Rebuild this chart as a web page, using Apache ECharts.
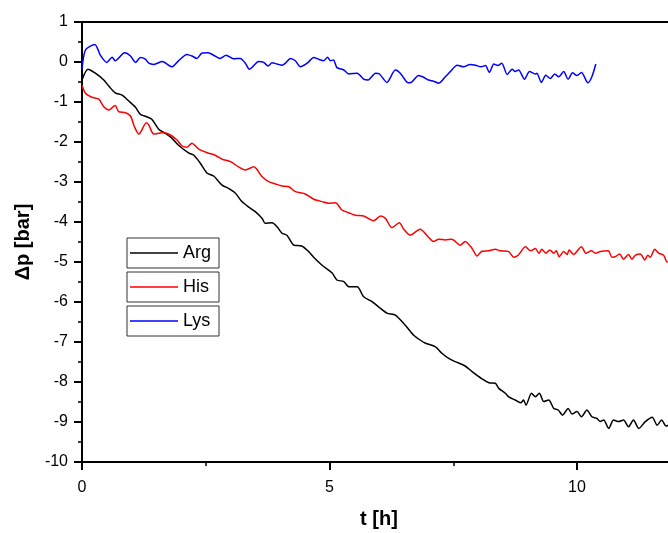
<!DOCTYPE html>
<html>
<head>
<meta charset="utf-8">
<script src="https://cdn.jsdelivr.net/npm/echarts@6/dist/echarts.min.js"></script>
<style>html,body{margin:0;padding:0;background:#fff}#c{width:668px;height:533px}</style>
</head>
<body>
<div id="c"></div>
<script>
const FONT = "'Liberation Sans', Arial, sans-serif";
const seriesNames = ['Arg', 'His', 'Lys'];
const seriesColors = ['#000000', '#ff0000', '#0000ff'];
const xTicks = [0, 5, 10];

const argT = [0,0.12,0.27,0.44,0.54,0.67,0.81,0.94,1.08,1.18,1.31,1.41,1.55,1.68,1.82,1.95,2.16,2.26,2.39,2.53,2.66,2.83,2.96,3.1,3.23,3.37,3.5,3.64,3.7,3.84,3.94,4.04,4.14,4.28,4.44,4.58,4.68,4.85,5.05,5.15,5.29,5.39,5.56,5.69,5.86,5.99,6.16,6.33,6.53,6.7,6.83,6.94,7.14,7.27,7.41,7.54,7.74,7.88,8.08,8.22,8.35,8.42,8.55,8.62,8.75,8.86,8.92,8.97,9.08,9.16,9.24,9.33,9.43,9.53,9.62,9.71,9.82,9.9,10.0,10.09,10.2,10.3,10.4,10.47,10.54,10.64,10.74,10.84,10.94,11.04,11.14,11.25,11.38,11.52,11.62,11.71,11.8,11.9];
const argP = [-0.45,-0.18,-0.28,-0.45,-0.6,-0.77,-0.83,-0.97,-1.13,-1.31,-1.37,-1.43,-1.68,-1.78,-1.91,-2.08,-2.28,-2.33,-2.53,-2.78,-2.85,-3.08,-3.16,-3.28,-3.49,-3.63,-3.74,-3.91,-4.03,-4.02,-4.12,-4.28,-4.33,-4.58,-4.6,-4.74,-4.88,-5.08,-5.27,-5.45,-5.49,-5.62,-5.62,-5.87,-5.99,-6.12,-6.28,-6.33,-6.58,-6.83,-6.95,-7.03,-7.12,-7.28,-7.41,-7.49,-7.6,-7.74,-7.92,-8.02,-8.03,-8.16,-8.28,-8.37,-8.45,-8.52,-8.45,-8.58,-8.28,-8.37,-8.28,-8.49,-8.45,-8.66,-8.7,-8.83,-8.66,-8.8,-8.74,-8.87,-8.7,-8.87,-8.91,-8.99,-8.95,-9.16,-8.95,-8.99,-8.95,-9.12,-8.95,-9.16,-8.99,-8.88,-9.08,-8.95,-9.1,-9.05];

const hisT = [0,0.07,0.2,0.34,0.44,0.54,0.67,0.74,0.88,0.98,1.06,1.15,1.3,1.35,1.45,1.62,1.75,1.92,2.02,2.12,2.22,2.36,2.53,2.69,2.83,3.0,3.17,3.3,3.47,3.64,3.77,3.91,4.04,4.18,4.31,4.51,4.68,4.85,4.98,5.12,5.25,5.39,5.52,5.69,5.89,6.03,6.13,6.26,6.41,6.5,6.63,6.83,7.0,7.1,7.21,7.34,7.47,7.64,7.74,7.88,7.98,8.08,8.22,8.35,8.45,8.62,8.72,8.81,8.96,9.06,9.16,9.23,9.29,9.37,9.45,9.53,9.58,9.64,9.73,9.8,9.84,9.93,10.09,10.18,10.29,10.37,10.47,10.63,10.71,10.77,10.86,10.94,11.04,11.11,11.18,11.28,11.37,11.43,11.48,11.57,11.65,11.75,11.82,11.9];
const hisP = [-0.58,-0.78,-0.88,-0.93,-1.12,-1.2,-1.09,-1.24,-1.27,-1.35,-1.62,-1.8,-1.52,-1.58,-1.8,-1.77,-1.8,-1.95,-2.1,-2.13,-2.03,-2.18,-2.27,-2.33,-2.43,-2.49,-2.63,-2.7,-2.62,-2.87,-2.99,-3.05,-3.1,-3.12,-3.24,-3.3,-3.43,-3.49,-3.53,-3.52,-3.7,-3.77,-3.83,-3.85,-3.97,-3.85,-3.91,-4.14,-4.02,-4.18,-4.33,-4.18,-4.38,-4.49,-4.43,-4.45,-4.43,-4.58,-4.49,-4.66,-4.85,-4.73,-4.72,-4.68,-4.72,-4.74,-4.88,-4.83,-4.62,-4.72,-4.66,-4.78,-4.68,-4.78,-4.7,-4.78,-4.72,-4.87,-4.74,-4.81,-4.7,-4.81,-4.62,-4.78,-4.72,-4.78,-4.74,-4.72,-4.88,-4.87,-4.8,-4.93,-4.81,-4.93,-4.83,-4.8,-4.95,-4.83,-4.88,-4.68,-4.78,-4.83,-5.0,-4.95];

const lysT = [0,0.07,0.26,0.37,0.5,0.61,0.67,0.86,0.98,1.08,1.18,1.28,1.35,1.45,1.62,1.82,1.95,2.12,2.22,2.32,2.42,2.55,2.66,2.79,2.91,3.06,3.2,3.3,3.38,3.57,3.67,3.76,3.84,3.94,4.04,4.11,4.21,4.31,4.41,4.55,4.68,4.78,4.88,4.96,5.02,5.08,5.15,5.29,5.39,5.56,5.69,5.78,5.93,6.01,6.16,6.33,6.43,6.57,6.63,6.8,6.9,7.0,7.1,7.21,7.34,7.44,7.58,7.71,7.84,7.95,8.06,8.15,8.23,8.32,8.4,8.48,8.59,8.69,8.75,8.82,8.94,9.04,9.16,9.19,9.28,9.37,9.46,9.55,9.63,9.73,9.82,9.91,10.0,10.09,10.22,10.3,10.38];
const lysP = [-0.2,0.3,0.44,0.17,-0.01,0.12,0.03,0.23,0.15,-0.01,0.11,0.07,-0.03,-0.06,0.01,-0.12,0.03,0.19,0.15,0.09,0.22,0.23,0.17,0.09,0.17,0.08,0.09,-0.03,-0.18,0.01,-0.01,-0.1,-0.02,-0.05,-0.08,-0.03,0.09,0.03,-0.12,-0.03,0.11,0.07,0.03,0.12,0.03,0.05,-0.14,-0.2,-0.3,-0.28,-0.43,-0.45,-0.28,-0.3,-0.51,-0.2,-0.28,-0.51,-0.52,-0.34,-0.38,-0.45,-0.48,-0.53,-0.37,-0.24,-0.08,-0.12,-0.06,-0.08,-0.12,-0.09,-0.26,-0.05,-0.09,-0.03,-0.31,-0.18,-0.24,-0.2,-0.43,-0.24,-0.3,-0.28,-0.51,-0.33,-0.41,-0.3,-0.37,-0.24,-0.43,-0.27,-0.34,-0.26,-0.52,-0.37,-0.05];

const zip = (a, b) => a.map((v, i) => [v, b[i]]);
const seriesData = [zip(argT, argP), zip(hisT, hisP), zip(lysT, lysP)];

const chart = echarts.init(document.getElementById('c'), null, {renderer: 'canvas'});

const legendTops = [238, 272, 306];
const legends = seriesNames.map((n, i) => ({
  data: [{name: n, icon: 'rect'}],
  left: 127, top: legendTops[i],
  orient: 'horizontal',
  padding: [5, 3, 5, 3],
  itemWidth: 48, itemHeight: 1.5, itemGap: 0,
  borderColor: '#333', borderWidth: 1,
  selectedMode: false,
  textStyle: {color: '#000', fontSize: 18, fontFamily: FONT, width: 33, lineHeight: 20, padding: [0,0,0,0]}
}));

chart.setOption({
  animation: false,
  backgroundColor: '#fff',
  textStyle: {fontFamily: FONT},
  grid: {left: 82, top: 22, width: 594, height: 440, show: true, borderColor: '#000', borderWidth: 2,
    backgroundColor: 'transparent', containLabel: false, outerBoundsMode: 'none'},
  legend: legends,
  xAxis: [{
    type: 'value', min: 0, max: 12, interval: 5, position: 'bottom',
    name: 't [h]', nameLocation: 'middle', nameGap: 47,
    nameTextStyle: {fontSize: 20, fontWeight: 'bold', color: '#000', fontFamily: FONT},
    axisLine: {show: true, onZero: false, lineStyle: {color: '#000', width: 2}},
    axisTick: {show: true, length: 8, lineStyle: {color: '#000', width: 2}},
    axisLabel: {fontSize: 16, color: '#000', margin: 18, fontFamily: FONT,
      formatter: v => xTicks.includes(v) ? String(v) : ''},
    splitLine: {show: false}
  }, {
    type: 'value', min: 0, max: 12, interval: 2.5, position: 'bottom',
    axisLine: {show: false, onZero: false},
    axisTick: {show: true, length: 4, lineStyle: {color: '#000', width: 1.5}},
    axisLabel: {show: false},
    splitLine: {show: false}
  }],
  yAxis: {
    type: 'value', min: -10, max: 1, interval: 1,
    name: 'Δp [bar]', nameLocation: 'middle', nameGap: 44, nameRotate: 90,
    nameTextStyle: {fontSize: 20, fontWeight: 'bold', color: '#000', fontFamily: FONT},
    axisLine: {show: true, onZero: false, lineStyle: {color: '#000', width: 2}},
    axisTick: {show: true, length: 8, lineStyle: {color: '#000', width: 2}},
    minorTick: {show: true, splitNumber: 2, length: 4, lineStyle: {color: '#000', width: 1.5}},
    axisLabel: {fontSize: 16, color: '#000', margin: 14, fontFamily: FONT},
    splitLine: {show: false}, minorSplitLine: {show: false}
  },
  series: seriesNames.map((n, i) => ({
    name: n, type: 'line', data: seriesData[i], xAxisIndex: 0,
    showSymbol: false, symbol: 'none', smooth: 0.25,
    lineStyle: {color: seriesColors[i], width: 1.5},
    itemStyle: {color: seriesColors[i]},
    emphasis: {disabled: true}
  }))
});
</script>
</body>
</html>
